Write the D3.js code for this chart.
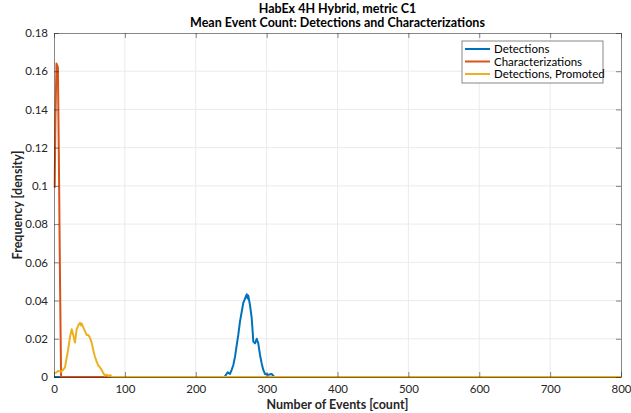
<!DOCTYPE html>
<html>
<head>
<meta charset="utf-8">
<script src="https://cdn.jsdelivr.net/npm/d3@7"></script>
<style>
	body { margin: 0; background: #fff; }
	text { font-family: Lato, sans-serif; }
</style>
</head>
<body>
<svg id="chart" width="631" height="413"></svg>
<script>
// values: [count, density]
var detections = [
	[0, 0], [240, 0], [241.3, 0.0004], [245, 0.0024], [248.3, 0.0016], [250.7, 0.0037], [253, 0.0063],
	[255.4, 0.0106], [257.8, 0.0167], [260, 0.022], [262.4, 0.029], [264.8, 0.034], [267, 0.0386],
	[269.5, 0.041], [271.9, 0.0433], [273.3, 0.041], [274.1, 0.0426], [276.5, 0.0377], [278.9, 0.031],
	[280.3, 0.0237], [281.2, 0.0185], [283.6, 0.0176], [286, 0.020], [288.2, 0.0176], [290.7, 0.0115],
	[293, 0.0071], [295.3, 0.0037], [297.7, 0.0016], [302.4, 0.0012], [307.1, 0.0016], [310.8, 0], [800, 0]
];
var characterizations = [
	[1, 0.099], [2, 0.135], [3.5, 0.164], [5.5, 0.162], [7, 0.11], [8.5, 0.05], [10, 0], [800, 0]
];
var promoted = [
	[1.4, 0.002], [4, 0.0026], [6, 0.0032], [8.5, 0.003], [10.5, 0.0028], [12.3, 0.0035], [15.5, 0.005],
	[19.8, 0.014], [22.6, 0.021], [25, 0.025], [27.2, 0.022], [29.6, 0.018], [32, 0.025], [34.3, 0.027],
	[36.7, 0.0284], [38, 0.027], [39, 0.028], [41.3, 0.026], [43.7, 0.024], [46.1, 0.022], [48.4, 0.022],
	[50.8, 0.0205], [53.2, 0.018], [55.4, 0.014], [57.8, 0.0106], [60.2, 0.008], [62.5, 0.006],
	[64.9, 0.005], [67.3, 0.0037], [69.6, 0.002], [72, 0.0007], [74.8, 0.0012], [77, 0.0004],
	[79, 0.001], [81.8, 0], [800, 0]
];
var seriesNames = ["Detections", "Characterizations", "Detections, Promoted"];
var seriesColors = ["#0072BD", "#D95319", "#EDB120"];
var xTicks = [0, 100, 200, 300, 400, 500, 600, 700, 800];
var yTicks = [0, 0.02, 0.04, 0.06, 0.08, 0.1, 0.12, 0.14, 0.16, 0.18];

var svg = d3.select("#chart"),
	margin = {top: 33, right: 10, bottom: 36, left: 54},
	width = svg.attr("width") - margin.left - margin.right,
	height = svg.attr("height") - margin.top - margin.bottom;

var x = d3.scaleLinear().domain([0, 800]).range([0, width]),
	y = d3.scaleLinear().domain([0, 0.18]).range([height, 0]);

var g = svg.append("g").attr("transform", "translate(" + margin.left + "," + margin.top + ")");

// grid
g.selectAll(".gx").data(xTicks.slice(1, -1)).enter().append("line")
	.attr("x1", function(d) { return x(d); }).attr("x2", function(d) { return x(d); })
	.attr("y1", 0).attr("y2", height)
	.attr("stroke", "#ebebeb").attr("stroke-width", 1);
g.selectAll(".gy").data(yTicks.slice(1, -1)).enter().append("line")
	.attr("y1", function(d) { return y(d); }).attr("y2", function(d) { return y(d); })
	.attr("x1", 0).attr("x2", width)
	.attr("stroke", "#ebebeb").attr("stroke-width", 1);

var line = d3.line()
	.x(function(d) { return x(d[0]); })
	.y(function(d) { return y(d[1]); });

[detections, characterizations, promoted].forEach(function(s, i) {
	g.append("path")
		.attr("d", line(s))
		.attr("fill", "none")
		.attr("stroke", seriesColors[i])
		.attr("stroke-width", 2)
		.attr("stroke-linejoin", "round");
});

// axes, MATLAB style with inward ticks on all sides
function styleAxis(sel) {
	sel.select(".domain").attr("stroke", "#262626").attr("stroke-opacity", 0.55);
	sel.selectAll(".tick line").attr("stroke", "#262626").attr("stroke-opacity", 0.55);
	sel.selectAll(".tick text").attr("fill", "#262626").style("font-size", "11.5px");
}
g.append("g").attr("transform", "translate(0," + height + ")")
	.call(d3.axisBottom(x).tickValues(xTicks).tickSize(-5).tickPadding(8).tickSizeOuter(0))
	.call(styleAxis);
g.append("g")
	.call(d3.axisTop(x).tickValues(xTicks).tickSize(-5).tickFormat("").tickSizeOuter(0))
	.call(styleAxis);
g.append("g")
	.call(d3.axisLeft(y).tickValues(yTicks).tickSize(-5).tickPadding(6).tickSizeOuter(0)
		.tickFormat(function(d) { return d3.format("")(+d.toFixed(2)); }))
	.call(styleAxis);
g.append("g").attr("transform", "translate(" + width + ",0)")
	.call(d3.axisRight(y).tickValues(yTicks).tickSize(-5).tickFormat("").tickSizeOuter(0))
	.call(styleAxis);

// titles
svg.append("text").attr("x", margin.left + width / 2).attr("y", 13)
	.attr("text-anchor", "middle").style("font-size", "12.5px").style("font-weight", "bold")
	.attr("fill", "#000").text("HabEx 4H Hybrid, metric C1");
svg.append("text").attr("x", margin.left + width / 2).attr("y", 27)
	.attr("text-anchor", "middle").style("font-size", "12.5px").style("font-weight", "bold")
	.attr("fill", "#000").text("Mean Event Count: Detections and Characterizations");
svg.append("text").attr("x", margin.left + width / 2).attr("y", 409)
	.attr("text-anchor", "middle").style("font-size", "12.5px").style("font-weight", "bold")
	.attr("fill", "#262626").text("Number of Events [count]");
svg.append("text")
	.attr("transform", "translate(22," + (margin.top + height / 2) + ") rotate(-90)")
	.attr("text-anchor", "middle").style("font-size", "12.5px").style("font-weight", "bold")
	.attr("fill", "#262626").text("Frequency [density]");

// legend
var lg = svg.append("g").attr("transform", "translate(462,41)");
lg.append("rect").attr("width", 141).attr("height", 42)
	.attr("fill", "#fff").attr("stroke", "#262626").attr("stroke-opacity", 0.55);
seriesNames.forEach(function(name, i) {
	var yy = 8 + i * 12.5;
	lg.append("line").attr("x1", 3).attr("x2", 28).attr("y1", yy).attr("y2", yy)
		.attr("stroke", seriesColors[i]).attr("stroke-width", 2);
	lg.append("text").attr("x", 32).attr("y", yy).attr("dy", "0.35em")
		.style("font-size", "11.5px").attr("fill", "#000").text(name);
});
</script>
</body>
</html>
